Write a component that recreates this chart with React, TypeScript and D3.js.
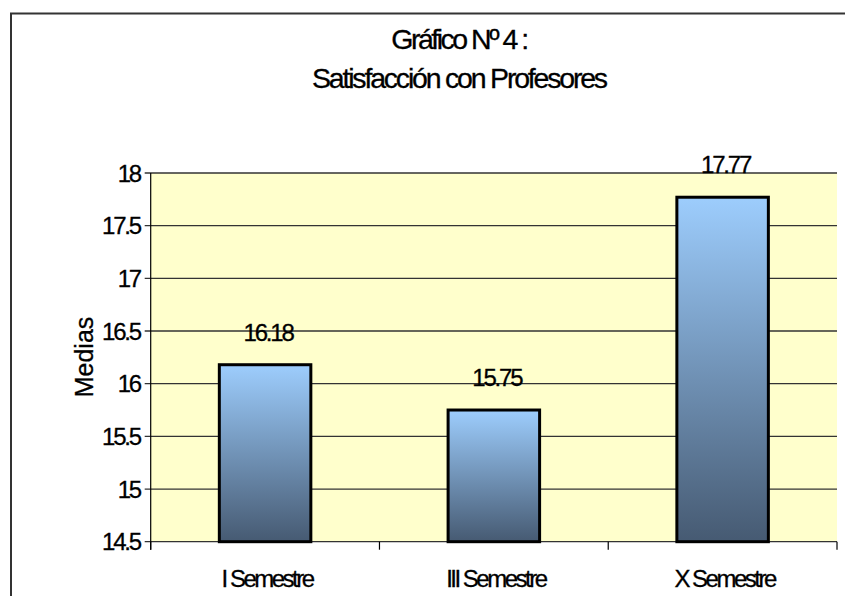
import React from "react";
import * as d3 from "d3";

const categories = ["I Semestre", "III Semestre", "X Semestre"];
const values = [16.18, 15.75, 17.77];
const yTicks = [14.5, 15, 15.5, 16, 16.5, 17, 17.5, 18];
const titleLines = ["Gráfico Nº 4 :", "Satisfacción con Profesores"];
const yLabel = "Medias";

const W = 845;
const H = 596;
const plot = { left: 150.7, right: 837, top: 173, bottom: 541.7 };
const FONT = "'Liberation Sans', Arial, sans-serif";
const textStroke = { stroke: "#000", strokeWidth: 0.3 };

export default function App() {
  const y = d3.scaleLinear().domain([14.5, 18]).range([plot.bottom, plot.top]);
  const x = d3
    .scaleBand<string>()
    .domain(categories)
    .range([plot.left, plot.right])
    .paddingInner(0.6)
    .paddingOuter(0.3);
  const step = x.step();
  const boundaries = d3.range(categories.length + 1).map((i) => plot.left + i * step);

  return (
    <svg
      width={W}
      height={H}
      style={{ position: "absolute", left: 0, top: 0, background: "#fff" }}
      fontFamily={FONT}
    >
      <defs>
        <linearGradient id="barGrad" x1="0" y1="0" x2="0" y2="1">
          <stop offset="0" stopColor="#9dcdfd" />
          <stop offset="1" stopColor="#465a72" />
        </linearGradient>
      </defs>
      {/* outer chart border */}
      <rect x={11} y={13.5} width={W + 20} height={H + 20} fill="#fff" stroke="#333" strokeWidth={2} />

      {/* title */}
      {titleLines.map((t, i) => (
        <text
          key={t}
          x={459}
          y={i === 0 ? 49 : 88}
          textAnchor="middle"
          fontSize={28.5}
          letterSpacing={i === 0 ? -2.5 : -2.2}
          fill="#000"
          {...textStroke}
        >
          {t}
        </text>
      ))}

      {/* plot background */}
      <rect
        x={plot.left}
        y={plot.top}
        width={plot.right - plot.left}
        height={plot.bottom - plot.top}
        fill="#ffffcc"
      />

      {/* gridlines and y ticks */}
      {yTicks.map((t) => (
        <g key={t}>
          <line
            x1={plot.left - 6}
            x2={plot.right}
            y1={y(t)}
            y2={y(t)}
            stroke="#333"
            strokeWidth={1.3}
          />
          <text
            x={140}
            y={y(t) + 8.5}
            textAnchor="end"
            fontSize={24}
            letterSpacing={-2.2}
            fill="#000"
            {...textStroke}
          >
            {t}
          </text>
        </g>
      ))}

      {/* y axis line */}
      <line x1={plot.left} x2={plot.left} y1={plot.top} y2={plot.bottom + 8} stroke="#000" strokeWidth={1.2} />

      {/* x ticks */}
      {boundaries.map((bx, i) => (
        <line key={i} x1={bx} x2={bx} y1={plot.bottom} y2={plot.bottom + 8} stroke="#000" strokeWidth={1.2} />
      ))}

      {/* bars */}
      {categories.map((c, i) => (
        <rect
          key={c}
          x={x(c)}
          y={y(values[i])}
          width={x.bandwidth()}
          height={plot.bottom - y(values[i])}
          fill="url(#barGrad)"
          stroke="#000"
          strokeWidth={3}
        />
      ))}

      {/* data labels */}
      {categories.map((c, i) => (
        <text
          key={c}
          x={(x(c) as number) + x.bandwidth() / 2 + 3}
          y={y(values[i]) - 24}
          textAnchor="middle"
          fontSize={24}
          letterSpacing={-2.2}
          fill="#000"
          {...textStroke}
        >
          {values[i].toFixed(2)}
        </text>
      ))}

      {/* x labels */}
      {categories.map((c) => (
        <text
          key={c}
          x={(x(c) as number) + x.bandwidth() / 2 + 2}
          y={586.5}
          textAnchor="middle"
          fontSize={24}
          letterSpacing={-2.5}
          fill="#000"
          {...textStroke}
        >
          {c}
        </text>
      ))}

      {/* y axis label */}
      <text
        transform={`translate(93,357) rotate(-90)`}
        textAnchor="middle"
        fontSize={25}
        fill="#000"
        {...textStroke}
      >
        {yLabel}
      </text>
    </svg>
  );
}
